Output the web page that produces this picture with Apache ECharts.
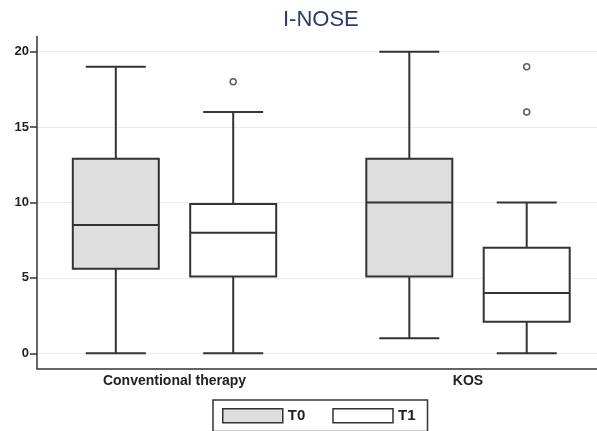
<!DOCTYPE html>
<html>
<head>
<meta charset="utf-8">
<script src="https://cdn.jsdelivr.net/npm/echarts@6/dist/echarts.min.js"></script>
<style>
html,body{margin:0;padding:0;background:#fff;}
#chart{width:597px;height:431px;}
</style>
</head>
<body>
<div id="chart"></div>
<script>
// ---- data ----
const categories = ['Conventional therapy', 'KOS'];
const seriesNames = ['T0', 'T1'];
// [min, Q1, median, Q3, max] per category
const t0Boxes = [
  [0, 5.6, 8.5, 12.9, 19],
  [1, 5.1, 10, 12.9, 20]
];
const t1Boxes = [
  [0, 5.1, 8, 9.9, 16],
  [0, 2.1, 4, 7, 10]
];
// outliers per category
const t0Outliers = [[], []];
const t1Outliers = [[18], [16, 19]];
const yTicks = [0, 5, 10, 15, 20];

// ---- layout / style ----
const FONT = 'Liberation Sans, Arial, sans-serif';
const GROUP_POS = [1, 2];
const OFFSETS = [-0.2, 0.2];
const BOX_W = 86;
const CAP_W = 60;
const LINE = '#333333';
const FILLS = ['#dedede', '#ffffff'];

function boxData(boxes, si) {
  return boxes.map((b, i) => [GROUP_POS[i] + OFFSETS[si]].concat(b));
}
function outlierData(outs, si) {
  const res = [];
  outs.forEach((arr, i) => arr.forEach(v => res.push([GROUP_POS[i] + OFFSETS[si], v])));
  return res;
}

function makeRender(fill) {
  return function (params, api) {
    const x = api.value(0);
    const p = k => api.coord([x, api.value(k)]);
    const cx = p(1)[0];
    const yMin = p(1)[1], yQ1 = p(2)[1], yMed = p(3)[1], yQ3 = p(4)[1], yMax = p(5)[1];
    const ls = { stroke: LINE, lineWidth: 2 };
    return {
      type: 'group',
      children: [
        { type: 'line', shape: { x1: cx, y1: yMax, x2: cx, y2: yQ3 }, style: ls },
        { type: 'line', shape: { x1: cx, y1: yQ1, x2: cx, y2: yMin }, style: ls },
        { type: 'line', shape: { x1: cx - CAP_W / 2, y1: yMax, x2: cx + CAP_W / 2, y2: yMax }, style: ls },
        { type: 'line', shape: { x1: cx - CAP_W / 2, y1: yMin, x2: cx + CAP_W / 2, y2: yMin }, style: ls },
        { type: 'rect', shape: { x: cx - BOX_W / 2, y: yQ3, width: BOX_W, height: yQ1 - yQ3 },
          style: { fill: fill, stroke: LINE, lineWidth: 2 } },
        { type: 'line', shape: { x1: cx - BOX_W / 2, y1: yMed, x2: cx + BOX_W / 2, y2: yMed }, style: ls }
      ]
    };
  };
}

const chart = echarts.init(document.getElementById('chart'), null, { renderer: 'canvas' });
const option = {
  animation: false,
  backgroundColor: '#ffffff',
  title: {
    text: 'I-NOSE',
    left: 283, top: 9, padding: 0,
    textStyle: { fontFamily: FONT, fontSize: 22, fontWeight: 'normal', color: '#2b3b6e' }
  },
  legend: {
    left: 213, top: 400,
    padding: [8, 12, 8, 9],
    borderColor: '#333', borderWidth: 1.5,
    itemWidth: 60, itemHeight: 14, itemGap: 27,
    selectedMode: false,
    textStyle: { fontFamily: FONT, fontSize: 15, fontWeight: 'bold', color: '#222' },
    data: seriesNames.map((n, i) => ({
      name: n, icon: 'rect',
      itemStyle: { color: FILLS[i], borderColor: LINE, borderWidth: 1.5 }
    }))
  },
  grid: { left: 37, right: 0, top: 36.6, bottom: 62.6 },
  xAxis: {
    type: 'value', min: 0.5315, max: 2.4395,
    axisLine: { onZero: false, lineStyle: { color: LINE, width: 1.5 } },
    axisTick: { show: false },
    splitLine: { show: false },
    axisLabel: {
      customValues: GROUP_POS,
      formatter: v => categories[Math.round(v) - 1] || '',
      fontFamily: FONT, fontSize: 14, fontWeight: 'bold', color: '#222', margin: 6
    }
  },
  yAxis: {
    type: 'value', min: -1, max: 21,
    axisLine: { show: true, onZero: false, lineStyle: { color: LINE, width: 1.5 } },
    axisTick: { show: true, length: 7, customValues: yTicks, lineStyle: { color: LINE, width: 1.5 } },
    splitLine: { show: true, lineStyle: { color: '#ececec', width: 1 } },
    axisLabel: { customValues: yTicks, fontFamily: FONT, fontSize: 13, fontWeight: 'bold', color: '#222', margin: 8 }
  },
  series: [
    { name: 'T0', type: 'custom', renderItem: makeRender(FILLS[0]),
      itemStyle: { color: FILLS[0] },
      encode: { x: 0, y: [1, 2, 3, 4, 5] }, data: boxData(t0Boxes, 0) },
    { name: 'T1', type: 'custom', renderItem: makeRender(FILLS[1]),
      itemStyle: { color: FILLS[1] },
      encode: { x: 0, y: [1, 2, 3, 4, 5] }, data: boxData(t1Boxes, 1) },
    { name: 'T1 outliers', type: 'scatter', symbol: 'circle', symbolSize: 6,
      itemStyle: { color: '#fff', borderColor: LINE, borderWidth: 1.5 },
      data: outlierData(t1Outliers, 1).concat(outlierData(t0Outliers, 0)) }
  ]
};
chart.setOption(option);
</script>
</body>
</html>
